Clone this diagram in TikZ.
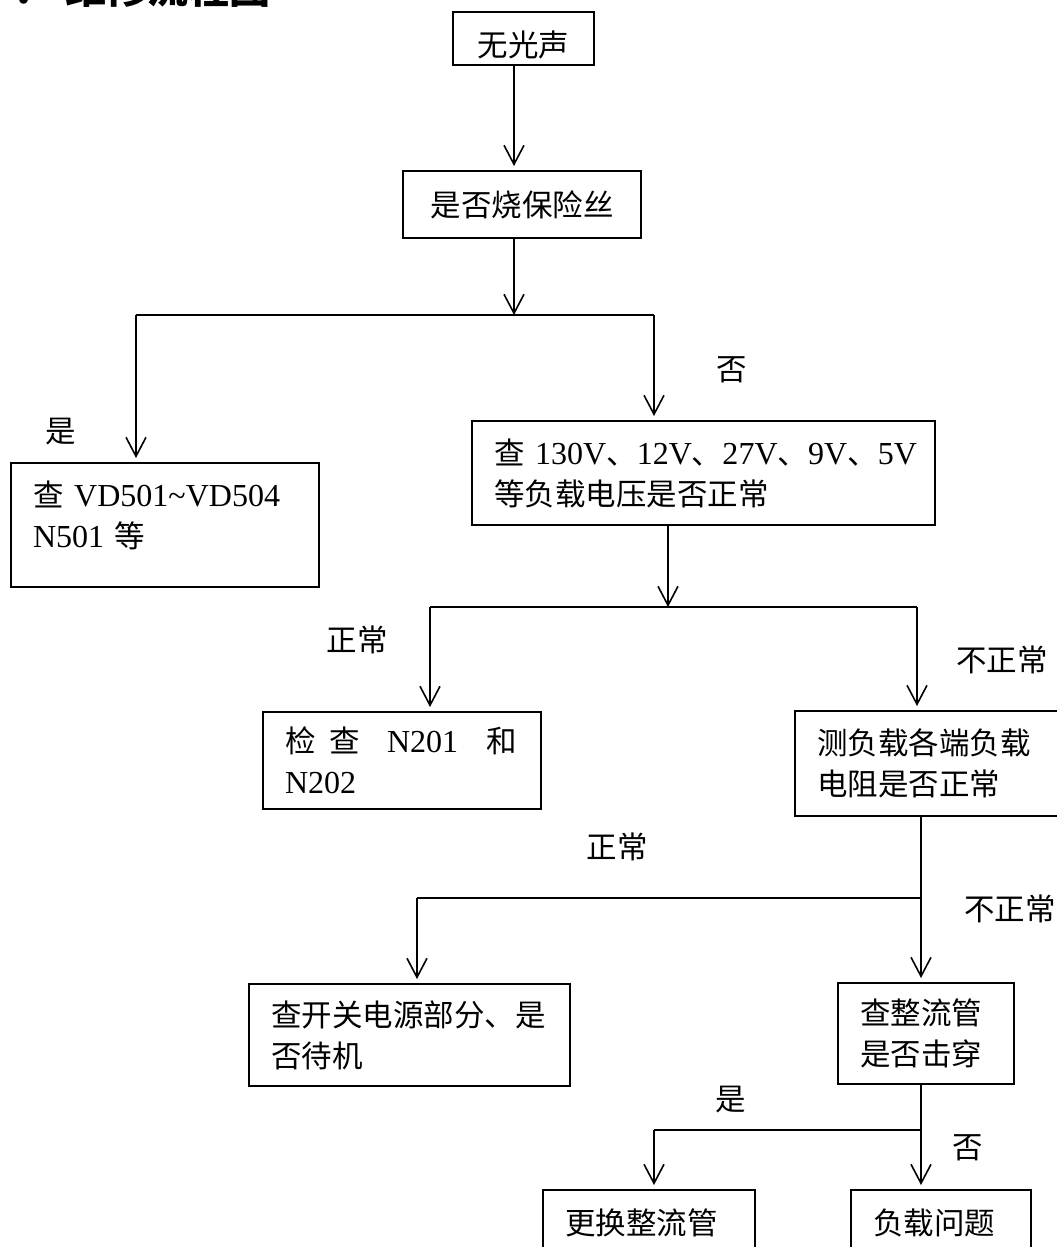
\documentclass[tikz,border=0pt]{standalone}
\usepackage{fontspec}
\setmainfont{Liberation Serif}[Scale=1.05]
\newfontfamily\cjk{Noto Sans CJK SC}
\newcommand{\zh}[1]{{\cjk #1}}
\usetikzlibrary{arrows.meta}

\begin{document}
\begin{tikzpicture}[x=0.5pt, y=-0.5pt,
    box/.style={draw, line width=1pt, anchor=north west, inner xsep=11pt, inner ysep=0pt, align=left, font=\fontsize{15.25}{20.5}\selectfont},
    lbl/.style={inner sep=0pt, font=\fontsize{15.25}{20.5}\selectfont\cjk},
    link/.style={line width=0.8pt},
    arr/.style={link, -{Straight Barb[length=9.5pt, width=10pt]}, shorten >=2pt}
]
\useasboundingbox (0,0) rectangle (1056,1247);

% heading, cut by the page edge
\node[inner sep=0pt, font=\fontsize{20.5}{24}\selectfont\cjk] (dot) at (24,6) {•};
\node[anchor=south west, inner sep=0pt, font=\fontsize{20.5}{24}\selectfont\cjk\bfseries] (title) at (65,8) {维修流程图};

\node[box, align=center, minimum width=70.5pt, minimum height=26.5pt, text width=48.5pt, text height=19pt, text depth=1pt] (top) at (452,11) {\zh{无光声}};
\node[box, align=center, minimum width=119pt, minimum height=33.5pt, text width=97pt] (fuse) at (402,170) {\zh{是否烧保险丝}};
\node[box, minimum width=154pt, minimum height=62pt, text width=132pt, text depth=31.7pt] (vd) at (10,462) {\zh{查} VD501\textasciitilde VD504\\N501 \zh{等}};
\node[box, minimum width=231.5pt, minimum height=52pt, text width=209.5pt] (volt) at (471,420) {\zh{查}~130V\zh{、}12V\zh{、}27V\zh{、}9V\zh{、}5V\\\zh{等负载电压是否正常}};
\node[box, minimum width=139pt, minimum height=48.5pt, text width=117pt] (chk) at (262,711) {\mbox{\zh{检}\hspace{7pt}\zh{查}\hspace{13.5pt}N201\hspace{14pt}\zh{和}}\\N202};
\node[box, minimum width=142pt, minimum height=52.5pt, text width=120pt] (meas) at (794,710) {\zh{测负载各端负载}\\\zh{电阻是否正常}};
\node[box, minimum width=160.5pt, minimum height=51pt, text width=138.5pt] (sw) at (248,983) {\zh{查开关电源部分、是}\\\zh{否待机}};
\node[box, minimum width=88pt, minimum height=50.5pt, text width=66pt] (rect) at (837,982) {\zh{查整流管}\\\zh{是否击穿}};
\node[box, minimum width=106pt, minimum height=33pt, text width=84pt] (swap) at (542,1189) {\zh{更换整流管}};
\node[box, minimum width=90pt, minimum height=33pt, text width=68pt] (load) at (850,1189) {\zh{负载问题}};

% branch labels
\node[lbl] (yes1) at (61,432) {是};
\node[lbl] (no1) at (732,370) {否};
\node[lbl] (ok1) at (357,640) {正常};
\node[lbl] (bad1) at (1002,660) {不正常};
\node[lbl] (ok2) at (617,847) {正常};
\node[lbl] (bad2) at (1010,909) {不正常};
\node[lbl] (yes2) at (731,1100) {是};
\node[lbl] (no2) at (968,1148) {否};

% split points
\coordinate (s1) at (514,315);
\coordinate (s1l) at (136,315);
\coordinate (s1r) at (654,315);
\coordinate (s2) at (668,607);
\coordinate (s2l) at (430,607);
\coordinate (s2r) at (917,607);
\coordinate (s3) at (921,898);
\coordinate (s3l) at (417,898);
\coordinate (s4) at (921,1130);
\coordinate (s4l) at (654,1130);

\draw[arr] (top.south -| s1) -- (s1 |- fuse.north);
\draw[arr, shorten >=0pt] (fuse.south -| s1) -- (s1);
\draw[link] (s1l) -- (s1r);
\draw[arr] (s1l) -- (s1l |- vd.north);
\draw[arr] (s1r) -- (s1r |- volt.north);

\draw[arr, shorten >=0pt] (volt.south -| s2) -- (s2);
\draw[link] (s2l) -- (s2r);
\draw[arr] (s2l) -- (s2l |- chk.north);
\draw[arr] (s2r) -- (s2r |- meas.north);

\draw[link] (meas.south -| s3) -- (s3);
\draw[link] (s3l) -- (s3);
\draw[arr] (s3) -- (s3 |- rect.north);
\draw[arr] (s3l) -- (s3l |- sw.north);

\draw[link] (rect.south -| s4) -- (s4);
\draw[link] (s4l) -- (s4);
\draw[arr] (s4) -- (s4 |- load.north);
\draw[arr] (s4l) -- (s4l |- swap.north);
\end{tikzpicture}
\end{document}
